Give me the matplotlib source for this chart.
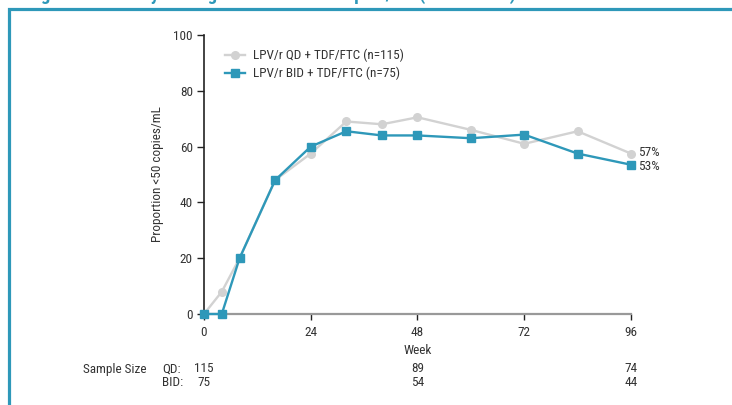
import matplotlib
matplotlib.use("Agg")
import matplotlib.pyplot as plt
from matplotlib.patches import Rectangle

plt.rcParams['font.family'] = ['Roboto Condensed', 'Liberation Sans Narrow',
                               'Liberation Sans', 'DejaVu Sans']

# data
weeks = [0, 4, 8, 16, 24, 32, 40, 48, 60, 72, 84, 96]
qd = [0, 8, 20, 48, 57.5, 69, 68, 70.5, 66, 61, 65.5, 57.5]
bid = [0, 0, 20, 48, 60, 65.5, 64, 64, 63, 64.3, 57.5, 53.5]
qd_label = "LPV/r QD + TDF/FTC (n=115)"
bid_label = "LPV/r BID + TDF/FTC (n=75)"
end_labels = ["57%", "53%"]
size_weeks = [0, 48, 96]
size_qd = [115, 89, 74]
size_bid = [75, 54, 44]
title = "Figure 1. Efficacy Through Week 96: <50 copies/mL (ITT-TLOVR)"

teal = "#2E98B9"
grey = "#D2D2D2"
txt = "#333333"
fs = 9.5

W, H = 732, 405
fig = plt.figure(figsize=(W / 100, H / 100), dpi=100)
ax = fig.add_axes([204 / W, 1 - 314 / H, 427 / W, 279 / H])

ax.plot(weeks, qd, color=grey, lw=1.7, marker="o", ms=5.5, clip_on=False,
        label=qd_label, zorder=3)
ax.plot(weeks, bid, color=teal, lw=1.7, marker="s", ms=5.5, clip_on=False,
        label=bid_label, zorder=4)

ax.set_xlim(0, 96)
ax.set_ylim(0, 100)
ax.set_xticks([0, 24, 48, 72, 96])
ax.set_yticks(range(0, 101, 20))
for s in ("top", "right"):
    ax.spines[s].set_visible(False)
ax.spines["left"].set_color("#222222")
ax.spines["bottom"].set_color("#999999")
ax.spines["left"].set_linewidth(1.2)
ax.spines["bottom"].set_linewidth(1.6)
ax.tick_params(axis="y", length=5, width=1, color="#222222", labelsize=fs,
               labelcolor=txt, pad=3)
ax.tick_params(axis="x", length=4, width=1, color="#222222", labelsize=fs,
               labelcolor=txt, pad=5)
ax.set_ylabel("Proportion <50 copies/mL", fontsize=fs, color=txt, labelpad=7)

leg = ax.legend(loc="upper left", bbox_to_anchor=(21 / 427, 0.95), frameon=False,
                fontsize=fs, handlelength=1.55, handletextpad=0.6,
                labelspacing=0.35, borderaxespad=0, borderpad=0)
for t in leg.get_texts():
    t.set_color(txt)

# end-of-line percentages
for val, lab, dy in zip([qd[-1], bid[-1]], end_labels, [1.0, -1.5]):
    ax.annotate(lab, (weeks[-1], val), xytext=(5, dy), textcoords="offset points",
                va="center", ha="left", fontsize=fs, color=txt,
                annotation_clip=False)

# Week label and sample sizes below the axis
tr = ax.get_xaxis_transform()
ax.text(48, -(351 - 314) / 279, "Week", transform=tr, ha="center",
        va="center", fontsize=fs, color=txt)
yq = -(369 - 314) / 279
yb = -(383 - 314) / 279
ax.text(-12.9, yq, "Sample Size", transform=tr, ha="right", va="center",
        fontsize=fs, color=txt)
ax.text(-9.4, yq, "QD:", transform=tr, ha="left", va="center",
        fontsize=fs, color=txt)
ax.text(-9.4, yb, "BID:", transform=tr, ha="left", va="center",
        fontsize=fs, color=txt)
for w, nq, nb in zip(size_weeks, size_qd, size_bid):
    ax.text(w, yq, str(nq), transform=tr, ha="center", va="center",
            fontsize=fs, color=txt)
    ax.text(w, yb, str(nb), transform=tr, ha="center", va="center",
            fontsize=fs, color=txt)

# teal frame and the title strip that the crop cuts off at the top
fig.add_artist(Rectangle((8.7 / W, -0.2), 1.2, 1.2 - 9.3 / H, fill=False,
                         lw=2.3, edgecolor=teal, transform=fig.transFigure))
fig.text(27 / W, 1 + 0.5 / H, title, color=teal, fontsize=13.5,
         fontweight="bold", ha="left", va="baseline")

fig.savefig("out.png", dpi=100)
